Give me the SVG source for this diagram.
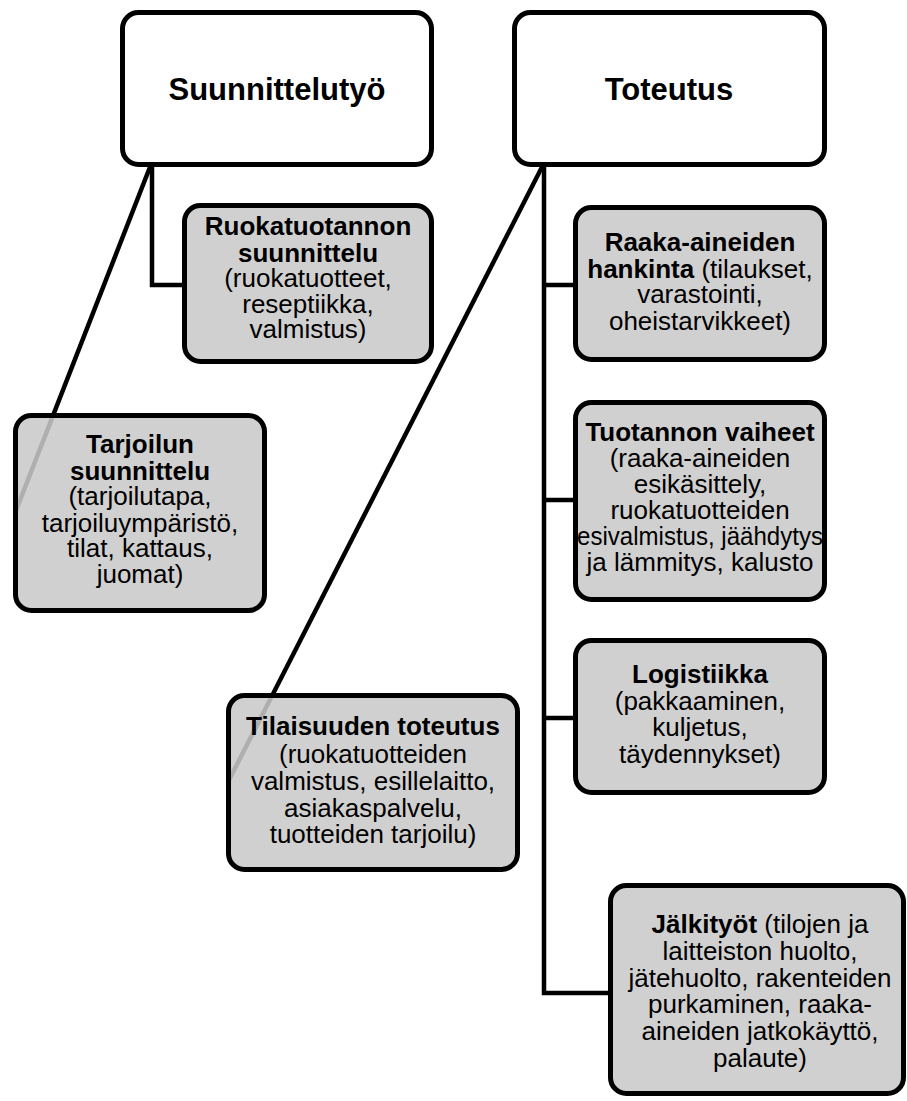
<svg xmlns="http://www.w3.org/2000/svg" width="907" height="1101" viewBox="0 0 907 1101">
<style>
.top{fill:#fff;stroke:#000;stroke-width:5}
.box{fill:rgb(201,201,201);fill-opacity:0.87;stroke:#000;stroke-width:5}
.con{fill:none;stroke:#000;stroke-width:4.5}
text{font-family:"Liberation Sans",Arial,sans-serif;font-size:26px;fill:#000;text-anchor:middle}
.h{font-size:31px;font-weight:bold}
.b{font-weight:bold}
</style>
<rect width="907" height="1101" fill="#fff"/>
<g id="connectors">
<path class="con" d="M152,167 V285 H185"/>
<path class="con" d="M150,167 L15,513"/>
<path class="con" d="M544,167 V993 H611"/>
<path class="con" d="M544,285 H576 M544,500 H576 M544,718 H576"/>
<path class="con" d="M542,167 L228,782"/>
</g>
<g id="suunnittelutyo">
<rect class="top" x="122.5" y="12.5" width="309" height="152" rx="16"/>
<text class="h" x="277" y="100">Suunnittelutyö</text>
</g>
<g id="toteutus">
<rect class="top" x="514.5" y="12.5" width="310" height="152" rx="16"/>
<text class="h" x="669" y="100">Toteutus</text>
</g>
<g id="ruokatuotannon">
<rect class="box" x="184.5" y="205.5" width="247" height="156" rx="16"/>
<text x="308" y="235" class="b">Ruokatuotannon</text>
<text x="308" y="262" class="b">suunnittelu</text>
<text x="308" y="287">(ruokatuotteet,</text>
<text x="308" y="313">reseptiikka,</text>
<text x="308" y="338">valmistus)</text>
</g>
<g id="tarjoilun">
<rect class="box" x="15.5" y="415.5" width="249" height="195" rx="16"/>
<text x="140" y="453" class="b">Tarjoilun</text>
<text x="140" y="480" class="b">suunnittelu</text>
<text x="140" y="505">(tarjoilutapa,</text>
<text x="140" y="532">tarjoiluympäristö,</text>
<text x="140" y="557">tilat, kattaus,</text>
<text x="140" y="583">juomat)</text>
</g>
<g id="raaka">
<rect class="box" x="575.5" y="207.5" width="249" height="152" rx="16"/>
<text x="700" y="251" class="b">Raaka-aineiden</text>
<text x="700" y="278"><tspan font-weight="bold">hankinta</tspan> (tilaukset,</text>
<text x="700" y="303">varastointi,</text>
<text x="700" y="330">oheistarvikkeet)</text>
</g>
<g id="tuotannon">
<rect class="box" x="575.5" y="402.5" width="249" height="197" rx="16"/>
<text x="700" y="441" class="b">Tuotannon vaiheet</text>
<text x="700" y="467">(raaka-aineiden</text>
<text x="700" y="493">esikäsittely,</text>
<text x="700" y="519">ruokatuotteiden</text>
<text x="700" y="545" textLength="246" lengthAdjust="spacingAndGlyphs">esivalmistus, jäähdytys</text>
<text x="700" y="571">ja lämmitys, kalusto</text>
</g>
<g id="logistiikka">
<rect class="box" x="575.5" y="640.5" width="249" height="152" rx="16"/>
<text x="700" y="683" class="b">Logistiikka</text>
<text x="700" y="710">(pakkaaminen,</text>
<text x="700" y="736">kuljetus,</text>
<text x="700" y="763">täydennykset)</text>
</g>
<g id="tilaisuuden">
<rect class="box" x="228.5" y="695.5" width="289" height="174" rx="16"/>
<text x="373" y="735" class="b">Tilaisuuden toteutus</text>
<text x="373" y="763">(ruokatuotteiden</text>
<text x="373" y="790">valmistus, esillelaitto,</text>
<text x="373" y="817">asiakaspalvelu,</text>
<text x="373" y="843">tuotteiden tarjoilu)</text>
</g>
<g id="jalkityot">
<rect class="box" x="610.5" y="885.5" width="293" height="208" rx="16"/>
<text x="760" y="933"><tspan font-weight="bold">Jälkityöt</tspan> (tilojen ja</text>
<text x="760" y="960">laitteiston huolto,</text>
<text x="760" y="987">jätehuolto, rakenteiden</text>
<text x="760" y="1013">purkaminen, raaka-</text>
<text x="760" y="1040">aineiden jatkokäyttö,</text>
<text x="760" y="1067">palaute)</text>
</g>
</svg>
